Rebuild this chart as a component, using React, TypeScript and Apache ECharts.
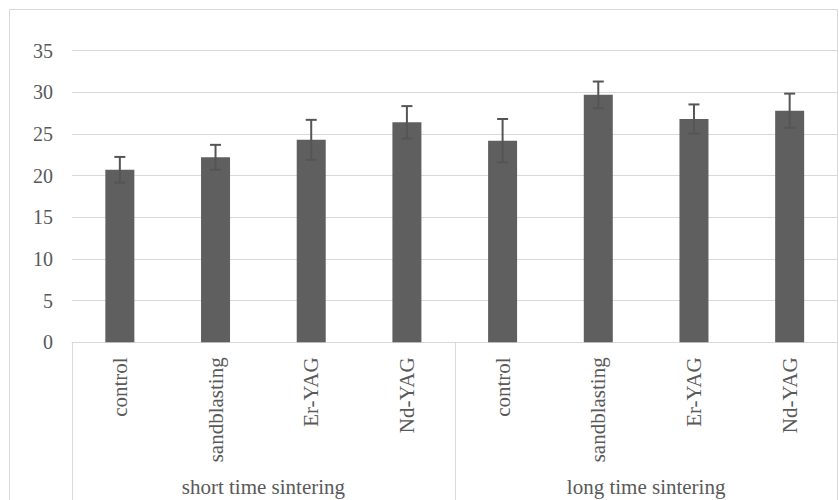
import React, { useEffect, useRef } from "react";
import * as echarts from "echarts";

const categories = ["control", "sandblasting", "Er-YAG", "Nd-YAG", "control", "sandblasting", "Er-YAG", "Nd-YAG"];
const groups = ["short time sintering", "long time sintering"];
const values = [20.7, 22.2, 24.3, 26.4, 24.2, 29.7, 26.8, 27.8];
const errors = [1.55, 1.5, 2.4, 1.95, 2.6, 1.6, 1.75, 2.05];
const yTicks = [0, 5, 10, 15, 20, 25, 30, 35];

const FONT = '"Liberation Serif", "Times New Roman", serif';
const TEXT = "#595959";
const GRID = "#d9d9d9";

export default function App() {
  const ref = useRef<HTMLDivElement>(null);
  useEffect(() => {
    document.body.style.margin = "0";
    const chart = echarts.init(ref.current!, null, { renderer: "svg" });
    const errData = values.map((v, i) => [i, v - errors[i], v + errors[i]]);
    chart.setOption({
      animation: false,
      backgroundColor: "#ffffff",
      grid: { left: 72, right: 1.5, top: 50.7, bottom: 157.7, containLabel: false },
      graphic: [
        {
          type: "rect",
          shape: { x: 9.5, y: 9.5, width: 828, height: 600 },
          style: { fill: "none", stroke: GRID, lineWidth: 1 },
          silent: true,
        },
      ],
      xAxis: [
        {
          type: "category",
          data: categories,
          position: "bottom",
          axisLine: { show: true, lineStyle: { color: GRID, width: 1 } },
          axisTick: { show: false },
          axisLabel: {
            interval: 0,
            rotate: 90,
            margin: 15,
            fontSize: 21,
            fontFamily: FONT,
            color: TEXT,
          },
          splitLine: { show: false },
        },
        {
          type: "category",
          data: groups,
          position: "bottom",
          axisLine: { show: false },
          axisTick: { show: true, interval: 0, length: 170, lineStyle: { color: GRID, width: 1 } },
          axisLabel: {
            interval: 0,
            margin: 134,
            fontSize: 21,
            fontFamily: FONT,
            color: TEXT,
          },
          splitLine: { show: false },
        },
      ],
      yAxis: {
        type: "value",
        min: yTicks[0],
        max: yTicks[yTicks.length - 1],
        interval: 5,
        axisLine: { show: false },
        axisTick: { show: false },
        axisLabel: { margin: 19, fontSize: 20, fontFamily: FONT, color: TEXT },
        splitLine: { lineStyle: { color: GRID, width: 1 } },
      },
      series: [
        {
          type: "bar",
          data: values,
          xAxisIndex: 0,
          barWidth: 29,
          itemStyle: { color: "#5f5f5f" },
        },
        {
          type: "custom",
          xAxisIndex: 0,
          data: errData,
          encode: { x: 0, y: [1, 2] },
          z: 10,
          renderItem: (params: any, api: any) => {
            const x = api.value(0);
            const lo = api.coord([x, api.value(1)]);
            const hi = api.coord([x, api.value(2)]);
            const hw = 5.5;
            const style = { stroke: "#555555", lineWidth: 2 };
            return {
              type: "group",
              children: [
                { type: "line", shape: { x1: hi[0], y1: hi[1], x2: lo[0], y2: lo[1] }, style },
                { type: "line", shape: { x1: hi[0] - hw, y1: hi[1], x2: hi[0] + hw, y2: hi[1] }, style },
                { type: "line", shape: { x1: lo[0] - hw, y1: lo[1], x2: lo[0] + hw, y2: lo[1] }, style },
              ],
            };
          },
        },
      ],
    });
    return () => chart.dispose();
  }, []);
  return <div ref={ref} style={{ position: "fixed", left: 0, top: 0, width: 839, height: 500 }} />;
}
